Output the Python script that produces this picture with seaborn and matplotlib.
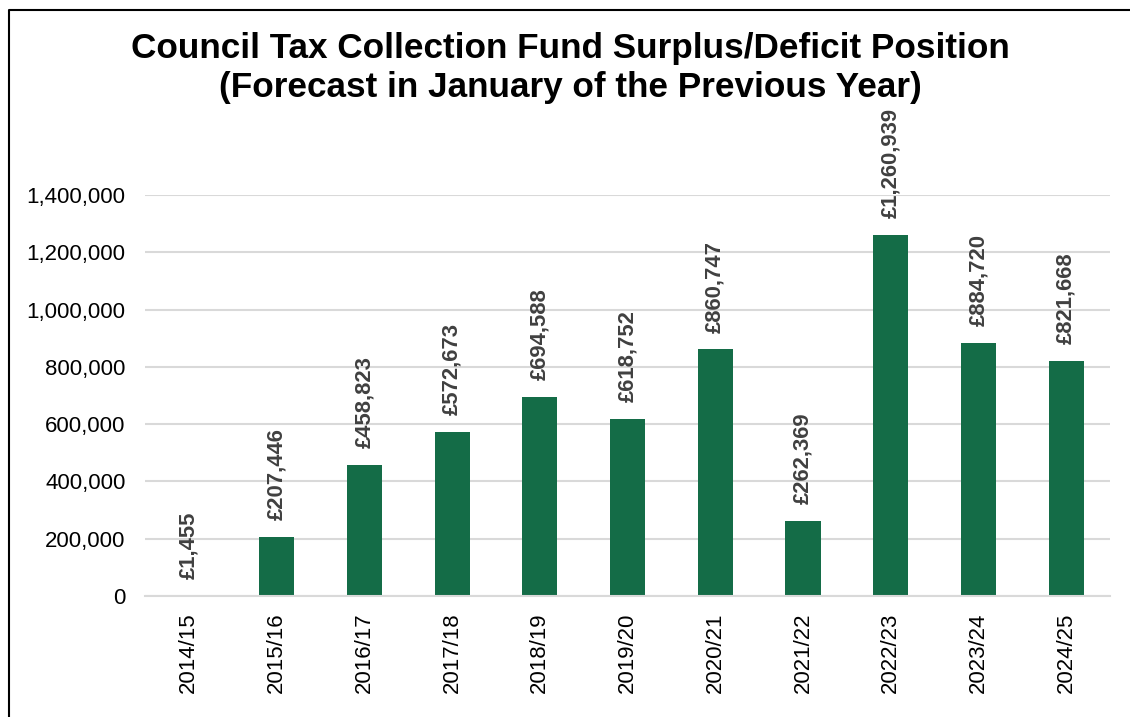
import matplotlib
matplotlib.use("Agg")
import matplotlib.pyplot as plt
from matplotlib.lines import Line2D
from matplotlib.ticker import FuncFormatter, FixedLocator
import seaborn as sns
import pandas as pd

# Collection fund position by financial year (forecast in January of the previous year)
years = ["2014/15", "2015/16", "2016/17", "2017/18", "2018/19", "2019/20",
         "2020/21", "2021/22", "2022/23", "2023/24", "2024/25"]
amounts = [1455, 207446, 458823, 572673, 694588, 618752,
           860747, 262369, 1260939, 884720, 821668]
y_ticks = [0, 200000, 400000, 600000, 800000, 1000000, 1200000, 1400000]

df = pd.DataFrame({"year": years, "amount": amounts})

sns.set_theme(style="white")
plt.rcParams["font.family"] = ["Liberation Sans", "DejaVu Sans"]

W, H = 1130, 717
fig = plt.figure(figsize=(W / 100, H / 100), dpi=100)
ax = fig.add_axes([145 / W, 1 - 596 / H, (1110 - 145) / W, (596 - 195) / H])

bar_color = "#146c47"
sns.barplot(data=df, x="year", y="amount", color=bar_color, width=0.4,
            saturation=1, ax=ax, edgecolor="none")

ax.set_ylim(0, 1400000)
ax.set_xlim(-0.5, len(years) - 0.5)
ax.yaxis.set_major_locator(FixedLocator(y_ticks))
ax.yaxis.set_major_formatter(FuncFormatter(lambda v, p: f"{int(v):,}"))
ax.grid(axis="y", color="#d9d9d9", linewidth=1.5)
ax.set_axisbelow(True)
ax.set_xlabel("")
ax.set_ylabel("")

for side in ["top", "right", "left"]:
    ax.spines[side].set_visible(False)
ax.spines["bottom"].set_color("#d9d9d9")
ax.spines["bottom"].set_linewidth(1.5)

ax.tick_params(axis="y", labelsize=16, colors="black", length=0, pad=14)
ax.tick_params(axis="x", which="major", labelsize=16, length=0, pad=12,
               labelrotation=90, colors="black")
# tick marks between categories
ax.set_xticks([i - 0.5 for i in range(len(years) + 1)], minor=True)
ax.tick_params(axis="x", which="minor", length=6, width=1.5, color="#d9d9d9",
               direction="out")

labels = [f"£{v:,}" for v in amounts]
ax.bar_label(ax.containers[0], labels=labels, rotation=90, padding=12,
             fontsize=15.8, fontweight="bold", color="#404040")

fig.text(0.505, 1 - 68 / H,
         "Council Tax Collection Fund Surplus/Deficit Position\n"
         "(Forecast in January of the Previous Year)",
         ha="center", va="center", fontsize=25.3, fontweight="bold",
         linespacing=1.2, color="black")

# outer frame of the chart area
fig.add_artist(Line2D([9 / W, 9 / W, 1.01], [-0.01, 1 - 10 / H, 1 - 10 / H],
                      transform=fig.transFigure, color="black", linewidth=1.5))

fig.savefig("out.png", dpi=100)
